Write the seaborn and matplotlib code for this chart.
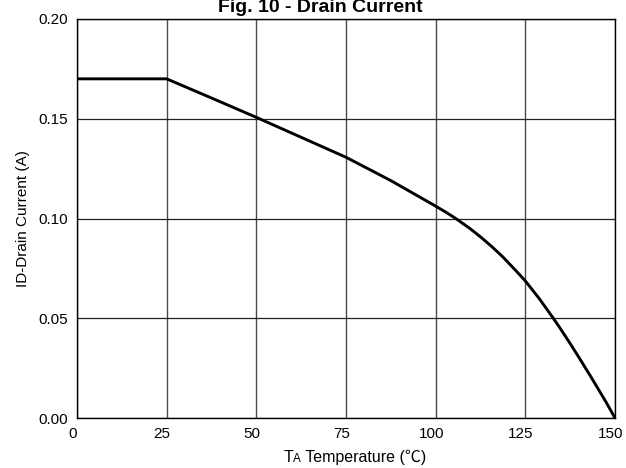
import matplotlib
matplotlib.use("Agg")
import matplotlib.pyplot as plt
import matplotlib.transforms as mtransforms
import seaborn as sns
import pandas as pd
from matplotlib.offsetbox import TextArea, HPacker, AnchoredOffsetbox

# Maximum drain current vs ambient temperature
temperature_c = [0, 25, 37.5, 50, 62.5, 75, 87.5, 100, 103, 105.6, 109.4, 112.5,
                 115.6, 118.7, 122.4, 125, 128.9, 132.6, 134.4, 137.4, 140, 143.5, 147.4, 150]
drain_current_a = [0.170, 0.170, 0.1604, 0.1507, 0.1407, 0.1307, 0.119, 0.1062, 0.1030, 0.1000, 0.0952, 0.0908,
                   0.0860, 0.0808, 0.0738, 0.0687, 0.0598, 0.0505, 0.0458, 0.0376, 0.0302, 0.0200, 0.0083, 0.0]

x_ticks = [0, 25, 50, 75, 100, 125, 150]
y_ticks = [0.00, 0.05, 0.10, 0.15, 0.20]
y_tick_labels = ["0.00", "0.05", "0.10", "0.15", "0.20"]

sns.set_theme(style="white")
plt.rcParams["font.family"] = ["Liberation Sans", "Noto Sans CJK SC", "DejaVu Sans"]

df = pd.DataFrame({"T": temperature_c, "ID": drain_current_a})

fig = plt.figure(figsize=(6.26, 4.68), dpi=100)
ax = fig.add_axes([77 / 626, 50 / 468, (615 - 77) / 626, (418 - 19) / 468])

sns.lineplot(data=df, x="T", y="ID", ax=ax, color="black", linewidth=2.1, zorder=3)

ax.set_xlim(0, 150)
ax.set_ylim(0, 0.20)
ax.set_xticks(x_ticks)
ax.set_yticks(y_ticks)
ax.set_yticklabels(y_tick_labels)
ax.tick_params(axis="both", length=0, labelsize=11, colors="black")
ax.tick_params(axis="y", pad=6.3)
ax.tick_params(axis="x", pad=6.5)
ax.xaxis.grid(True, color="#4a4a4a", linewidth=1.0)
ax.yaxis.grid(True, color="#222222", linewidth=0.9)
for s in ax.spines.values():
    s.set_color("black")
    s.set_linewidth(1.0)

# nudge the x tick labels slightly left
shift = mtransforms.ScaledTranslation(-4.5 / 100, 0, fig.dpi_scale_trans)
for lbl in ax.get_xticklabels():
    lbl.set_transform(lbl.get_transform() + shift)

ax.set_xlabel("")
ax.set_ylabel("ID-Drain Current (A)", fontsize=11, color="black", labelpad=6)

# x-axis label with small-caps style "A"
parts = [
    TextArea("T", textprops=dict(fontsize=11.5, color="black")),
    TextArea("A", textprops=dict(fontsize=8.5, color="black")),
    TextArea(" Temperature (℃)", textprops=dict(fontsize=11.5, color="black")),
]
box = HPacker(children=parts, align="baseline", pad=0, sep=0)
anchored = AnchoredOffsetbox(loc="center", child=box, frameon=False,
                             bbox_to_anchor=(355 / 626, 1 - 457 / 468),
                             bbox_transform=fig.transFigure, pad=0, borderpad=0)
fig.add_artist(anchored)

fig.text(320.7 / 626, 1 - 11.7 / 468, "Fig. 10 - Drain Current", ha="center", va="baseline",
         fontsize=14, fontweight="bold", color="black")

fig.savefig("out.png", dpi=100)
